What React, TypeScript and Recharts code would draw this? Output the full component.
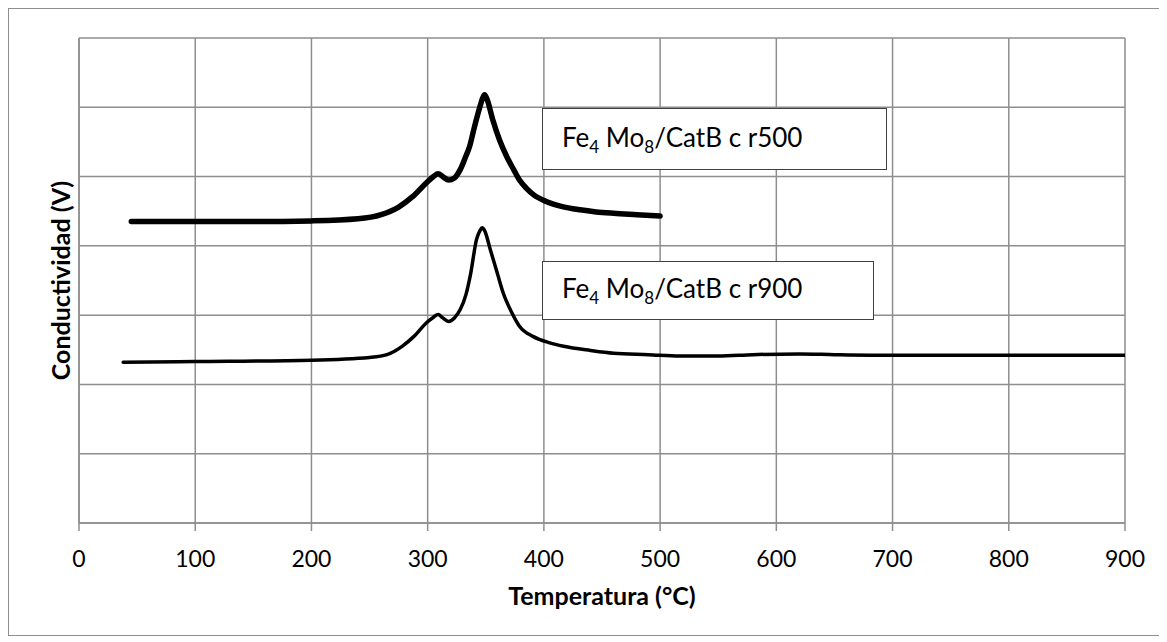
import { LineChart, Line, XAxis, YAxis, CartesianGrid } from "recharts";

// Fe4 Mo8/CatB c r500 (thick trace)
const r500Temp = [45, 100, 150, 200, 240, 260, 275, 287, 299, 305, 309, 313, 318, 323, 328, 333, 336, 340, 345, 347, 349, 351, 356, 362, 368, 374, 379, 385, 391, 402, 415, 431, 445, 460, 480, 500];
const r500Cond = [4.35, 4.35, 4.35, 4.36, 4.39, 4.45, 4.56, 4.71, 4.91, 5.0, 5.04, 5.0, 4.95, 4.98, 5.1, 5.3, 5.43, 5.7, 6.01, 6.12, 6.18, 6.12, 5.82, 5.52, 5.29, 5.1, 4.95, 4.83, 4.74, 4.64, 4.57, 4.52, 4.49, 4.47, 4.45, 4.43];

// Fe4 Mo8/CatB c r900 (thin trace)
const r900Temp = [38, 100, 200, 250, 265, 278, 288, 299, 305, 309, 313, 318, 323, 328, 333, 337, 342, 345, 347, 349, 354, 360, 365, 372, 379, 391, 405, 417, 440, 460, 490, 517, 550, 580, 620, 650, 700, 800, 900];
const r900Cond = [2.32, 2.33, 2.35, 2.39, 2.43, 2.55, 2.69, 2.89, 2.97, 3.01, 2.96, 2.91, 2.96, 3.08, 3.3, 3.6, 4.09, 4.22, 4.26, 4.22, 3.94, 3.6, 3.32, 3.05, 2.84, 2.69, 2.6, 2.55, 2.49, 2.45, 2.43, 2.41, 2.41, 2.43, 2.44, 2.43, 2.42, 2.42, 2.42];

const xTicks = [0, 100, 200, 300, 400, 500, 600, 700, 800, 900];
const yTicks = [0, 1, 2, 3, 4, 5, 6, 7];

const r500 = r500Temp.map((t, i) => ({ t, v: r500Cond[i] }));
const r900 = r900Temp.map((t, i) => ({ t, v: r900Cond[i] }));

const FONT = "Lato, 'Open Sans', sans-serif";
const GRID = "#8e8e8e";

const boxStyle = {
  position: "absolute" as const,
  background: "#fff",
  border: "1.5px solid #404040",
  boxSizing: "border-box" as const,
  display: "flex",
  alignItems: "center",
  paddingLeft: 19,
  fontFamily: FONT,
  fontSize: 26,
  color: "#000",
};

const Tag = ({ run }: { run: string }) => (
  <span>
    Fe<sub style={{ fontSize: 17 }}>4</sub> Mo<sub style={{ fontSize: 17 }}>8</sub>/CatB c {run}
  </span>
);

export default function App() {
  return (
    <div
      style={{
        position: "relative",
        width: 1150,
        height: 626,
        border: `1px solid ${GRID}`,
        background: "#fff",
      }}
    >
      <LineChart width={1149} height={625} margin={{ top: 29, right: 33, left: 0, bottom: 21 }}>
        <CartesianGrid stroke={GRID} strokeWidth={1.5} />
        <XAxis
          type="number"
          dataKey="t"
          domain={[0, 900]}
          ticks={xTicks}
          allowDataOverflow
          height={90}
          stroke={GRID}
          strokeWidth={1.5}
          tickSize={8}
          tickMargin={20}
          tick={{ fill: "#000", fontSize: 23, fontFamily: FONT }}
          label={{
            value: "Temperatura (°C)",
            position: "insideBottom",
            offset: 8,
            style: { fill: "#000", fontSize: 25, fontWeight: 700, fontFamily: FONT },
          }}
        />
        <YAxis
          type="number"
          domain={[0, 7]}
          ticks={yTicks}
          width={70}
          stroke={GRID}
          strokeWidth={1.5}
          tickFormatter={() => ""}
          tickLine={false}
          label={{
            value: "Conductividad (V)",
            angle: -90,
            position: "insideLeft",
            offset: 52,
            style: { fill: "#000", fontSize: 25, fontWeight: 700, fontFamily: FONT, textAnchor: "middle" },
          }}
        />
        <Line
          data={r500}
          dataKey="v"
          type="monotone"
          stroke="#000"
          strokeWidth={5.5}
          strokeLinecap="round"
          dot={false}
          isAnimationActive={false}
        />
        <Line
          data={r900}
          dataKey="v"
          type="monotone"
          stroke="#000"
          strokeWidth={3.5}
          strokeLinecap="round"
          dot={false}
          isAnimationActive={false}
        />
      </LineChart>
      <div style={{ ...boxStyle, left: 533, top: 99, width: 345, height: 62 }}>
        <Tag run="r500" />
      </div>
      <div style={{ ...boxStyle, left: 533, top: 252, width: 332, height: 59 }}>
        <Tag run="r900" />
      </div>
    </div>
  );
}
